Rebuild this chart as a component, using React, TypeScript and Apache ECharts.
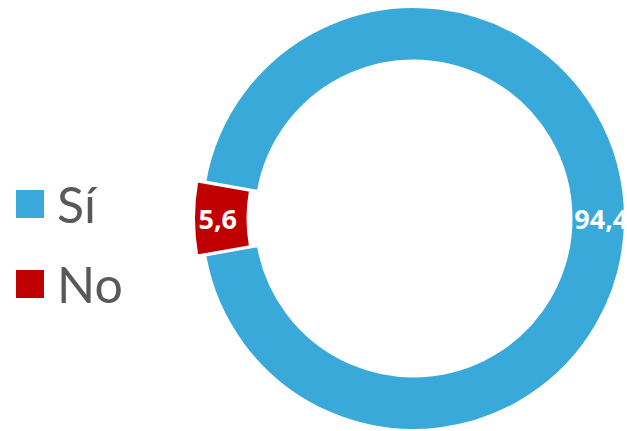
import React, { useEffect, useRef } from "react";
import * as echarts from "echarts";

const categories = ["Sí", "No"];
const values = [94.4, 5.6];
const colors = ["#38A9D9", "#C00000"];

export default function App() {
  const ref = useRef<HTMLDivElement>(null);
  useEffect(() => {
    document.body.style.margin = "0";
    const chart = echarts.init(ref.current!, null, { renderer: "svg" });
    chart.setOption({
      animation: false,
      backgroundColor: "#ffffff",
      legend: {
        orient: "vertical",
        left: 14,
        top: 179,
        padding: 0,
        icon: "rect",
        itemWidth: 30,
        itemHeight: 30,
        itemGap: 30,
        selectedMode: false,
        data: categories,
        textStyle: {
          fontFamily: "Lato",
          fontSize: 50,
          lineHeight: 50,
          color: "#595959",
          padding: [0, 0, 0, 7],
        },
      },
      series: [
        {
          type: "pie",
          center: [413.5, 218.5],
          radius: [158, 211.5],
          startAngle: 169.92,
          clockwise: true,
          selectedMode: "single",
          selectedOffset: 8,
          avoidLabelOverlap: false,
          emphasis: { disabled: true },
          itemStyle: { borderColor: "#ffffff", borderWidth: 2 },
          label: {
            show: true,
            position: "inside",
            color: "#ffffff",
            fontFamily: "Open Sans",
            fontWeight: "bold",
            fontSize: 27,
            formatter: (p: any) => String(p.value).replace(".", ","),
          },
          labelLine: { show: false },
          data: categories.map((name, i) => ({
            name,
            value: values[i],
            selected: i === 1,
            itemStyle: { color: colors[i] },
          })),
        },
      ],
    });
    return () => chart.dispose();
  }, []);
  return <div ref={ref} style={{ width: 627, height: 431 }} />;
}
